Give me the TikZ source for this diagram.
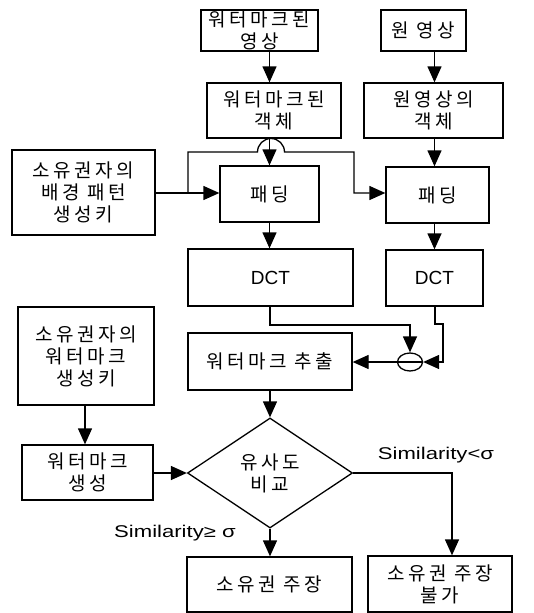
\documentclass[tikz,border=0pt]{standalone}
\usepackage{fontspec}
\setmainfont{Liberation Sans}
\newfontfamily\kr[LetterSpace=18]{Noto Sans CJK KR}
\newfontfamily\widesans[FakeStretch=1.3]{Liberation Sans}
\usetikzlibrary{arrows.meta,shapes.geometric}
\begin{document}
\begin{tikzpicture}[x=1pt,y=-1pt,
  line width=1.3pt,
  box/.style={draw, rectangle, align=center, inner sep=0pt, font=\kr\fontsize{19}{22}\selectfont},
  latbox/.style={draw, rectangle, align=center, inner sep=0pt, font=\fontsize{19}{22}\selectfont},
  lbl/.style={font=\widesans\fontsize{17}{20}\selectfont, inner sep=0pt},
  arr/.style={-{Triangle[length=16pt,width=14pt]}},
]
\useasboundingbox (0,0) rectangle (534,613);
\node[box, minimum width=117pt, minimum height=41pt, inner ysep=-3pt] (wimg) at (259.5,30.5) {워터마크된\\영상};
\node[box, minimum width=85pt, minimum height=41pt] (orig) at (423.5,30.5) {원 영상};
\node[box, minimum width=134pt, minimum height=55pt] (wobj) at (274,110.5) {워터마크된\\객체};
\node[box, minimum width=139pt, minimum height=55pt] (oobj) at (433.5,110.5) {원영상의\\객체};
\node[box, minimum width=143pt, minimum height=85pt] (key1) at (83.5,192.5) {소유권자의\\배경 패턴\\생성키};
\node[box, minimum width=99pt, minimum height=56pt] (pad1) at (269.5,194) {패딩};
\node[box, minimum width=103pt, minimum height=56pt] (pad2) at (437.5,195) {패딩};
\node[latbox, minimum width=165pt, minimum height=57pt] (dct1) at (270.5,277.5) {DCT};
\node[latbox, minimum width=97pt, minimum height=56pt] (dct2) at (434.5,278) {DCT};
\node[box, minimum width=164pt, minimum height=57pt] (ext) at (270,361.5) {워터마크 추출};
\node[draw, ellipse, minimum width=25pt, minimum height=18pt, inner sep=0pt] (circ) at (410,362) {};
\node[box, minimum width=136pt, minimum height=98pt] (key2) at (86,356) {소유권자의\\워터마크\\생성키};
\node[box, minimum width=131pt, minimum height=55pt] (wgen) at (87.5,472.5) {워터마크\\생성};
\node[draw, diamond, minimum width=165pt, minimum height=110pt, inner sep=0pt, align=center, font=\kr\fontsize{19}{22}\selectfont] (dia) at (270,473) {유사도\\비교};
\node[box, minimum width=165pt, minimum height=55pt] (own) at (269.5,584.5) {소유권 주장};
\node[box, minimum width=144pt, minimum height=56pt] (noown) at (440,584) {소유권 주장\\불가};
\node[lbl] (lt) at (436,455) {Similarity<σ};
\node[lbl] (ge) at (175,533) {Similarity≥ σ};
% coordinates for routing
\coordinate (b1) at (188,152);
\coordinate (j1) at (257.5,152);
\coordinate (b2) at (354,152);
\coordinate (d1) at (270,325);
\coordinate (d2a) at (435,324);
\coordinate (d2b) at (443,324);
\coordinate (rt) at (452,473);
% connectors
\draw[arr] (wimg.south -| pad1.north) -- (wobj.north -| pad1.north);
\draw[arr] (orig.south -| dct2.north) -- (oobj.north -| dct2.north);
\draw[arr] (wobj.south -| pad1.north) -- (pad1.north);
\draw[arr] (oobj.south -| dct2.north) -- (pad2.north -| dct2.north);
\draw[arr] (key1.east |- 0,193) -- (pad1.west |- 0,193);
\draw[arr] (b1 |- 0,193) -- (b1) -- (j1) arc[start angle=180, end angle=0, radius=13.5pt] -- (b2) -- (b2 |- 0,193) -- (pad2.west |- 0,193);
\draw[arr] (pad1.south) -- (dct1.north -| pad1.south);
\draw[arr] (pad2.south -| dct2.north) -- (dct2.north);
\draw[arr] (dct1.south -| d1) -- (d1) -| (circ.north);
\draw[arr] (dct2.south -| d2a) -- (d2a) -- (d2b) |- (circ.east);
\draw (circ.west) -- (circ.east);
\draw[arr] (circ.west) -- (ext.east |- circ.west);
\draw[arr] (ext.south) -- (dia.north);
\draw[arr] (key2.south -| 85,0) -- (wgen.north -| 85,0);
\draw[arr] (wgen.east |- dia.west) -- (dia.west);
\draw[arr] (dia.south) -- (own.north -| dia.south);
\draw[arr] (dia.east) -- (rt) -- (noown.north -| rt);
\end{tikzpicture}
\end{document}
